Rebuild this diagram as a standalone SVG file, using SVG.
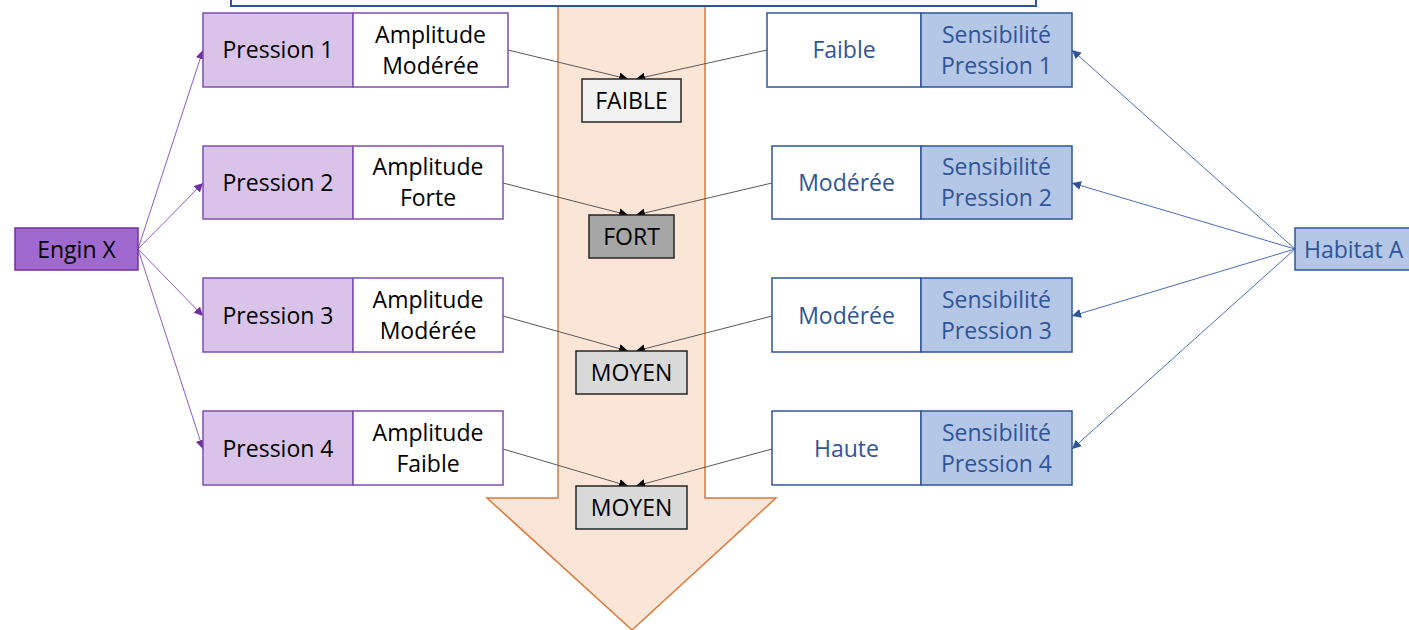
<svg xmlns="http://www.w3.org/2000/svg" width="1409" height="630" viewBox="0 0 1409 630">
<defs>
<style>
.t{font-family:"Open Sans","Liberation Sans",sans-serif;font-size:23px;text-anchor:middle;}
.blk{fill:#000;}
.blu{fill:#2F5597;}
.pr{fill:#D9C3E9;stroke:#7F4FB0;stroke-width:1.5;}
.am{fill:#fff;stroke:#7F4FB0;stroke-width:1.5;}
.se{fill:#B4C7E7;stroke:#2F5597;stroke-width:1.5;}
.lv{fill:#fff;stroke:#2F5597;stroke-width:1.5;}
.res{stroke:#262626;stroke-width:1.5;}
.cg{stroke:#595959;stroke-width:1;fill:none;}
.cp{stroke:#8E5BC4;stroke-width:1;fill:none;}
.cb{stroke:#4A6FB5;stroke-width:1;fill:none;}
</style>
<marker id="mg" viewBox="0 0 10 10" refX="10" refY="5" markerWidth="9" markerHeight="9" markerUnits="userSpaceOnUse" orient="auto"><path d="M0,0L10,5L0,10z" fill="#000"/></marker>
<marker id="mp" viewBox="0 0 10 10" refX="10" refY="5" markerWidth="9" markerHeight="9" markerUnits="userSpaceOnUse" orient="auto"><path d="M0,0L10,5L0,10z" fill="#7030A0"/></marker>
<marker id="mb" viewBox="0 0 10 10" refX="10" refY="5" markerWidth="9" markerHeight="9" markerUnits="userSpaceOnUse" orient="auto"><path d="M0,0L10,5L0,10z" fill="#2F5597"/></marker>
</defs>
<rect width="1409" height="630" fill="#fff"/>
<g id="bigArrow">
<path d="M558,-5 L705,-5 L705,498 L776,498 L632,630 L487,498 L558,498 Z" fill="#FBE5D6" stroke="#D97A3E" stroke-width="1.5"/>
</g>
<g id="topBox">
<rect x="231" y="-4" width="805" height="10" fill="#fff" stroke="#2F5597" stroke-width="2"/>
</g>
<g id="connectors">
<line class="cp" x1="138" y1="249" x2="203" y2="50" marker-end="url(#mp)"/>
<line class="cp" x1="138" y1="249" x2="203" y2="183" marker-end="url(#mp)"/>
<line class="cp" x1="138" y1="249" x2="203" y2="316" marker-end="url(#mp)"/>
<line class="cp" x1="138" y1="249" x2="203" y2="449" marker-end="url(#mp)"/>
<line class="cb" x1="1295" y1="249" x2="1072" y2="50" marker-end="url(#mb)"/>
<line class="cb" x1="1295" y1="249" x2="1072" y2="183" marker-end="url(#mb)"/>
<line class="cb" x1="1295" y1="249" x2="1072" y2="316" marker-end="url(#mb)"/>
<line class="cb" x1="1295" y1="249" x2="1072" y2="449" marker-end="url(#mb)"/>
<line class="cg" x1="508" y1="50" x2="628" y2="79" marker-end="url(#mg)"/>
<line class="cg" x1="767" y1="50" x2="636" y2="79" marker-end="url(#mg)"/>
<line class="cg" x1="503" y1="183" x2="628" y2="215" marker-end="url(#mg)"/>
<line class="cg" x1="772" y1="183" x2="636" y2="215" marker-end="url(#mg)"/>
<line class="cg" x1="503" y1="316" x2="628" y2="351" marker-end="url(#mg)"/>
<line class="cg" x1="772" y1="316" x2="636" y2="351" marker-end="url(#mg)"/>
<line class="cg" x1="503" y1="449" x2="628" y2="486" marker-end="url(#mg)"/>
<line class="cg" x1="772" y1="449" x2="636" y2="486" marker-end="url(#mg)"/>
</g>
<g id="enginX">
<rect x="15" y="228" width="123" height="42" fill="#A069D0" stroke="#7030A0" stroke-width="1.5"/>
<text class="t blk" x="76.5" y="258">Engin X</text>
</g>
<g id="habitatA">
<rect x="1295" y="228" width="130" height="42" fill="#B4C7E7" stroke="#2F5597" stroke-width="1.5"/>
<text class="t blu" x="1304" y="258" style="text-anchor:start">Habitat A</text>
</g>
<g id="pression1"><rect class="pr" x="203" y="13" width="150" height="74"/><text class="t blk" x="278" y="58">Pression 1</text></g>
<g id="amplitude1"><rect class="am" x="353" y="13" width="155" height="74"/><text class="t blk" x="430.5" y="43">Amplitude</text><text class="t blk" x="430.5" y="74">Modérée</text></g>
<g id="pression2"><rect class="pr" x="203" y="146" width="150" height="73"/><text class="t blk" x="278" y="191">Pression 2</text></g>
<g id="amplitude2"><rect class="am" x="353" y="146" width="150" height="73"/><text class="t blk" x="428" y="175">Amplitude</text><text class="t blk" x="428" y="206">Forte</text></g>
<g id="pression3"><rect class="pr" x="203" y="278" width="150" height="74"/><text class="t blk" x="278" y="324">Pression 3</text></g>
<g id="amplitude3"><rect class="am" x="353" y="278" width="150" height="74"/><text class="t blk" x="428" y="308">Amplitude</text><text class="t blk" x="428" y="339">Modérée</text></g>
<g id="pression4"><rect class="pr" x="203" y="411" width="150" height="74"/><text class="t blk" x="278" y="457">Pression 4</text></g>
<g id="amplitude4"><rect class="am" x="353" y="411" width="150" height="74"/><text class="t blk" x="428" y="441">Amplitude</text><text class="t blk" x="428" y="472">Faible</text></g>
<g id="niveau1"><rect class="lv" x="767" y="13" width="154" height="74"/><text class="t blu" x="844" y="58">Faible</text></g>
<g id="sensibilite1"><rect class="se" x="921" y="13" width="151" height="74"/><text class="t blu" x="996.5" y="43">Sensibilité</text><text class="t blu" x="996.5" y="74">Pression 1</text></g>
<g id="niveau2"><rect class="lv" x="772" y="146" width="149" height="73"/><text class="t blu" x="846.5" y="191">Modérée</text></g>
<g id="sensibilite2"><rect class="se" x="921" y="146" width="151" height="73"/><text class="t blu" x="996.5" y="175">Sensibilité</text><text class="t blu" x="996.5" y="206">Pression 2</text></g>
<g id="niveau3"><rect class="lv" x="772" y="278" width="149" height="74"/><text class="t blu" x="846.5" y="324">Modérée</text></g>
<g id="sensibilite3"><rect class="se" x="921" y="278" width="151" height="74"/><text class="t blu" x="996.5" y="308">Sensibilité</text><text class="t blu" x="996.5" y="339">Pression 3</text></g>
<g id="niveau4"><rect class="lv" x="772" y="411" width="149" height="74"/><text class="t blu" x="846.5" y="457">Haute</text></g>
<g id="sensibilite4"><rect class="se" x="921" y="411" width="151" height="74"/><text class="t blu" x="996.5" y="441">Sensibilité</text><text class="t blu" x="996.5" y="472">Pression 4</text></g>
<g id="result1"><rect class="res" x="582" y="79" width="99" height="43" fill="#F2F2F2"/><text class="t blk" x="631.5" y="109">FAIBLE</text></g>
<g id="result2"><rect class="res" x="589" y="215" width="85" height="43" fill="#A6A6A6"/><text class="t blk" x="631.5" y="245">FORT</text></g>
<g id="result3"><rect class="res" x="576" y="351" width="111" height="43" fill="#D9D9D9"/><text class="t blk" x="631.5" y="381">MOYEN</text></g>
<g id="result4"><rect class="res" x="576" y="486" width="111" height="43" fill="#D9D9D9"/><text class="t blk" x="631.5" y="516">MOYEN</text></g>
</svg>
